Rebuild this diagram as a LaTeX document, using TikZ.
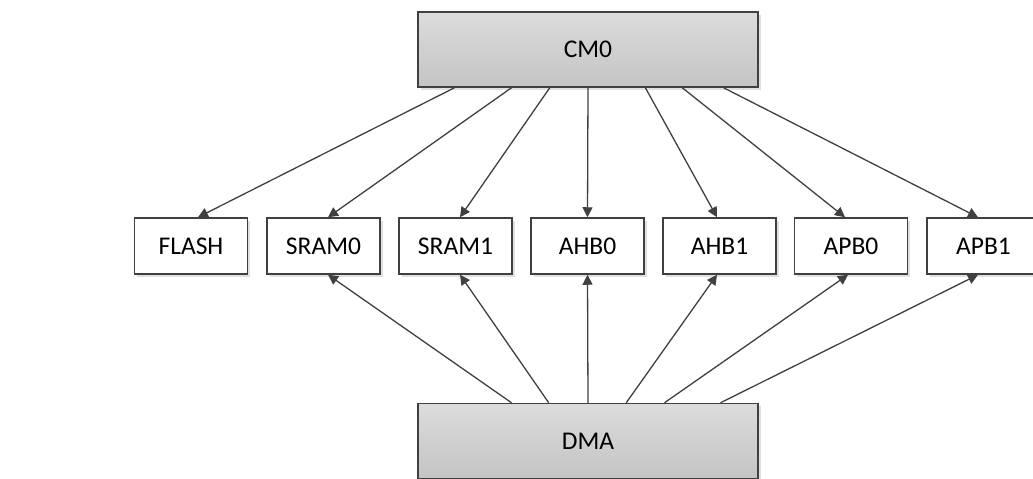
\documentclass[tikz,border=0pt]{standalone}
\usepackage{fontspec}
\setmainfont{Carlito}
\usetikzlibrary{arrows.meta,calc,shadows}
\definecolor{edge}{HTML}{404040}
\definecolor{topg}{HTML}{DCDCDC}
\definecolor{botg}{HTML}{C4C4C4}
\tikzset{
  unit/.style={draw=edge, line width=1.5pt, fill=white, minimum width=113pt, minimum height=56pt,
    inner sep=0pt, font=\fontsize{25.5}{30}\selectfont,
    drop shadow={shadow xshift=2.5pt, shadow yshift=-2.5pt, fill=black, opacity=0.12}},
  master/.style={draw=edge, line width=1.5pt, top color=topg, bottom color=botg,
    minimum width=340pt, minimum height=75pt, inner sep=0pt, font=\fontsize{25.5}{30}\selectfont,
    drop shadow={shadow xshift=2.5pt, shadow yshift=-2.5pt, fill=black, opacity=0.12}},
  link/.style={draw=edge, line width=1.3pt, -{Triangle[length=10pt,width=10pt]}}
}
\begin{document}
\begin{tikzpicture}[x=1pt,y=-1pt]
\useasboundingbox (0,0) rectangle (1033,479);
\node[master] (cm) at (588,49.5) {CM0};
\node[master] (dma) at (588,441) {DMA};
\node[unit] (flash) at (191,246) {FLASH};
\node[unit] (sram0) at (323.5,246) {SRAM0};
\node[unit] (sram1) at (455.5,246) {SRAM1};
\node[unit] (ahb0) at (587.5,246) {AHB0};
\node[unit] (ahb1) at (719.5,246) {AHB1};
\node[unit] (apb0) at (851,246) {APB0};
\node[unit] (apb1) at (983.5,246) {APB1};
% CM0 to targets
\draw[link] ($(cm.south west)!0.109!(cm.south east)$) -- ($(flash.north)+(7,0)$);
\draw[link] ($(cm.south west)!0.276!(cm.south east)$) -- ($(sram0.north)+(4.5,0)$);
\draw[link] ($(cm.south west)!0.388!(cm.south east)$) -- ($(sram1.north)+(4.5,0)$);
\draw[link] (cm.south) -- (ahb0.north);
\draw[link] ($(cm.south west)!0.668!(cm.south east)$) -- ($(ahb1.north)+(-2.5,0)$);
\draw[link] ($(cm.south west)!0.776!(cm.south east)$) -- ($(apb0.north)+(-6,0)$);
\draw[link] ($(cm.south west)!0.897!(cm.south east)$) -- ($(apb1.north)+(-5.5,0)$);
% DMA to targets
\draw[link] ($(dma.north west)!0.276!(dma.north east)$) -- ($(sram0.south)+(4.5,0)$);
\draw[link] ($(dma.north west)!0.385!(dma.north east)$) -- ($(sram1.south)+(4.5,0)$);
\draw[link] (dma.north) -- (ahb0.south);
\draw[link] ($(dma.north west)!0.612!(dma.north east)$) -- ($(ahb1.south)+(-2.5,0)$);
\draw[link] ($(dma.north west)!0.724!(dma.north east)$) -- ($(apb0.south)+(-3,0)$);
\draw[link] ($(dma.north west)!0.888!(dma.north east)$) -- ($(apb1.south)+(-5.5,0)$);
\end{tikzpicture}
\end{document}
